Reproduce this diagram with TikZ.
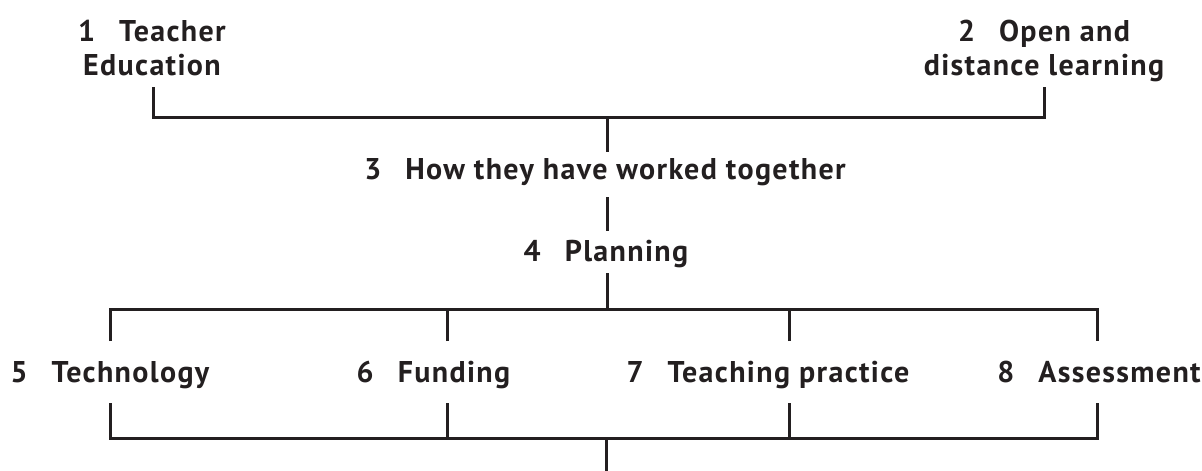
\documentclass[tikz,border=0pt]{standalone}
\usepackage{fontspec}
\setmainfont{PT Sans}[LetterSpace=4.5]
\definecolor{ink}{HTML}{231F20}
\begin{document}
\begin{tikzpicture}[x=1pt,y=-1pt,
  lbl/.style={inner sep=0pt,anchor=base,text=ink,align=center,
    font=\fontsize{30}{34}\selectfont\bfseries},
  conn/.style={draw=ink,line width=3pt}]
\useasboundingbox (0,0) rectangle (1202,471);
% text nodes (base anchor = last line's baseline)
\node[lbl] (n1) at (152,75) {1\hspace{0.8em}Teacher\\Education};
\node[lbl] (n2) at (1044,75) {2\hspace{0.8em}Open and\\distance learning};
\node[lbl] (n3) at (605,179) {3\hspace{0.8em}How they have worked together};
\node[lbl] (n4) at (606,261) {4\hspace{0.8em}Planning};
\node[lbl] (n5) at (110,382) {5\hspace{0.8em}Technology};
\node[lbl] (n6) at (433.5,382) {6\hspace{0.8em}Funding};
\node[lbl] (n7) at (768,382) {7\hspace{0.8em}Teaching practice};
\node[lbl] (n8) at (1099,382) {8\hspace{0.8em}Assessment};
% junction coordinates
\coordinate (a1) at (153,87);
\coordinate (a2) at (1044,87);
\coordinate (j12) at (607,117);
\coordinate (b3) at (607,152);
\coordinate (t3) at (607,197);
\coordinate (b4) at (607,231);
\coordinate (t4) at (607,273);
\coordinate (j4) at (607,309);
\coordinate (u5) at (110,341);
\coordinate (u6) at (447,341);
\coordinate (u7) at (789,341);
\coordinate (u8) at (1097,341);
\coordinate (d5) at (110,403);
\coordinate (d6) at (447,403);
\coordinate (d7) at (789,403);
\coordinate (d8) at (1097,403);
\coordinate (jb) at (606,438);
\coordinate (out) at (606,471);
% connectors
\draw[conn] (a1) |- (j12) -| (a2);
\draw[conn] (j12) -- (b3);
\draw[conn] (t3) -- (b4);
\draw[conn] (t4) -- (j4);
\draw[conn] (u5) |- (j4) -| (u8);
\draw[conn] (u6) -- (u6 |- j4);
\draw[conn] (u7) -- (u7 |- j4);
\draw[conn] (d5) |- (jb) -| (d8);
\draw[conn] (d6) -- (d6 |- jb);
\draw[conn] (d7) -- (d7 |- jb);
\draw[conn] (jb) -- (out);
\end{tikzpicture}
\end{document}
